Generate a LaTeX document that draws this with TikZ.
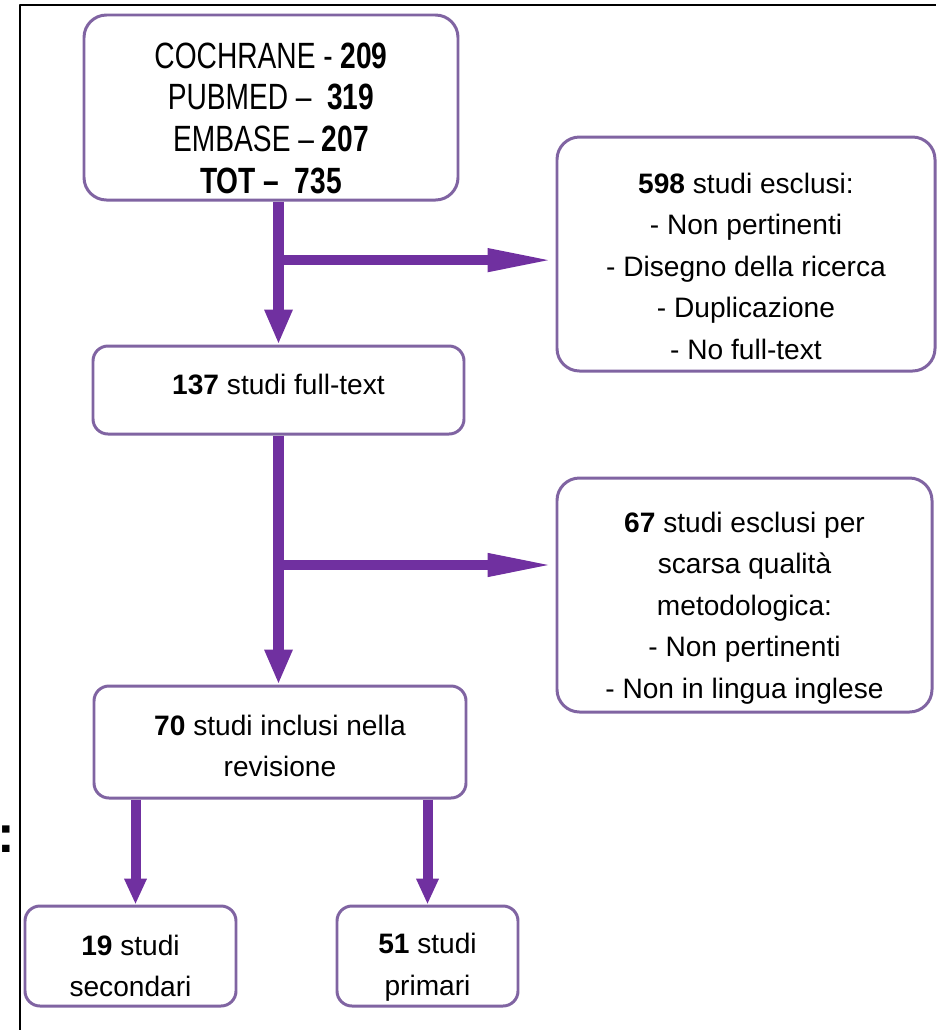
\documentclass[tikz,border=0pt]{standalone}
\usepackage{fontspec}
\setmainfont{Liberation Sans}
\newfontfamily\tallfont{Liberation Sans}[FakeStretch=0.77,Ligatures=TeX]
\usetikzlibrary{arrows.meta,calc}
\definecolor{boxline}{HTML}{8064A2}
\definecolor{flow}{HTML}{7030A0}
\newcommand{\topgap}[1]{\rule{0pt}{#1}}

\begin{document}
\begin{tikzpicture}[font=\fontsize{16}{23.6}\selectfont,line join=round,
    box/.style={draw=boxline,line width=1.7pt,rounded corners=4.5mm,
      align=center,inner sep=0pt},
    smallbox/.style={box,rounded corners=3mm},
    mainflow/.style={flow,line width=2.3mm,
      -{Triangle[width=5.2mm,length=7mm]}},
    sideflow/.style={flow,line width=2mm,
      -{Triangle[width=4.2mm,length=13.6mm]}},
    subflow/.style={flow,line width=2mm,
      -{Triangle[width=4.2mm,length=5.2mm]}}]
  \useasboundingbox (0,0) rectangle (18.72,-20.6);

  % frame
  \draw[black,line width=1.4pt] (.4,-20.6) |- (18.72,-.1);
  \node[font=\fontsize{30}{30}\selectfont\bfseries,inner sep=0pt] (colon)
    at (.13,-16.79) {:};

  % boxes
  \node[box,minimum width=7.48cm,minimum height=3.7cm,
        font=\tallfont\fontsize{20.8}{23.7}\selectfont] (src) at (5.42,-2.15)
    {\topgap{26.6pt}COCHRANE - \textbf{209}\\PUBMED --\ \ \textbf{319}\\
     EMBASE -- \textbf{207}\\\textbf{TOT --\ \ 735}};
  \node[box,minimum width=7.56cm,minimum height=4.68cm] (ex1) at (14.92,-5.08)
    {\topgap{25.3pt}\textbf{598} studi esclusi:\\- Non pertinenti\\
     - Disegno della ricerca\\- Duplicazione\\- No full-text};
  \node[smallbox,minimum width=7.42cm,minimum height=1.76cm] (ft) at (5.57,-7.8)
    {\textbf{137} studi full-text\rule[-6.8pt]{0pt}{0pt}};
  \node[box,minimum width=7.5cm,minimum height=4.68cm] (ex2) at (14.89,-11.9)
    {\topgap{26.5pt}\textbf{67} studi esclusi per\\scarsa qualità\\metodologica:\\
     - Non pertinenti\\- Non in lingua inglese};
  \node[smallbox,minimum width=7.44cm,minimum height=2.24cm] (inc) at (5.6,-14.84)
    {\topgap{16.3pt}\textbf{70} studi inclusi nella\\revisione};
  \node[smallbox,minimum width=4.22cm,minimum height=2cm] (sec) at (2.61,-19.12)
    {\topgap{23.1pt}\textbf{19} studi\\secondari};
  \node[smallbox,minimum width=3.62cm,minimum height=2cm] (pri) at (8.55,-19.12)
    {\topgap{24.1pt}\textbf{51} studi\\primari};

  % arrows
  \coordinate (j1) at ($(src.south -| ft.north)!.41!(ft.north)$);
  \coordinate (j2) at ($(ft.south)!.52!(ft.south |- inc.north)$);
  \draw[mainflow] (src.south -| ft.north) -- (ft.north);
  \draw[sideflow] (j1) -- (ex1.west |- j1);
  \draw[mainflow] (ft.south) -- (ft.south |- inc.north);
  \draw[sideflow] (j2) -- (ex2.west |- j2);
  \draw[subflow] ([xshift=1mm]sec.north |- inc.south) -- ([xshift=1mm]sec.north);
  \draw[subflow] (pri.north |- inc.south) -- (pri.north);
\end{tikzpicture}
\end{document}
